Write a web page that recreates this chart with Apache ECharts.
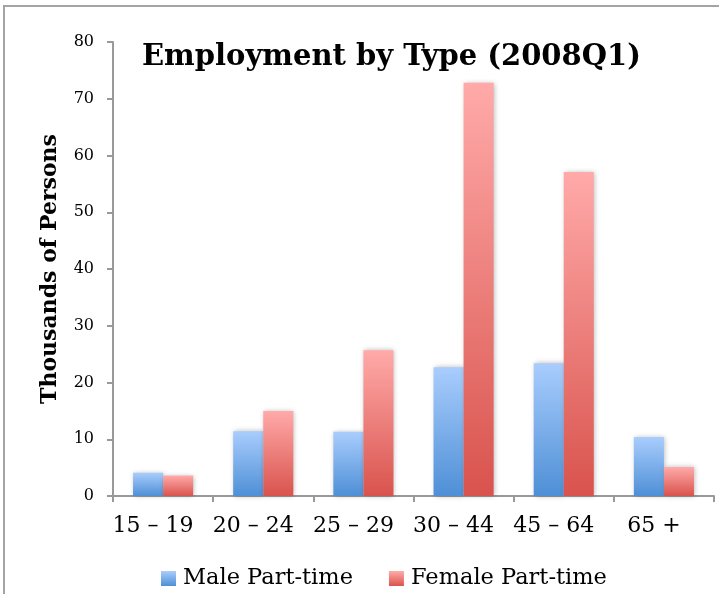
<!DOCTYPE html>
<html>
<head>
<meta charset="utf-8">
<script src="https://cdn.jsdelivr.net/npm/echarts@6/dist/echarts.min.js"></script>
<style>
  html, body { margin: 0; padding: 0; background: #fff; }
  #chart { position: absolute; left: 0; top: 0; width: 719px; height: 594px; }
  #frame { position: absolute; left: 3px; top: 5px; right: -10px; bottom: -10px;
           border-left: 2px solid #a4a4a4; border-top: 2px solid #a4a4a4; pointer-events: none; }
</style>
</head>
<body>
<div id="chart"></div>
<div id="frame"></div>
<script>
// Part-time employment by age group, thousands of persons
const ageGroups = ['15 – 19', '20 – 24', '25 – 29', '30 – 44', '45 – 64', '65 +'];
const malePartTime = [4.1, 11.4, 11.3, 22.7, 23.4, 10.4];
const femalePartTime = [3.6, 15.0, 25.7, 72.8, 57.1, 5.1];
const seriesNames = ['Male Part-time', 'Female Part-time'];
const yTicks = { min: 0, max: 80, step: 10 };

const serif = '"DejaVu Serif", "Liberation Serif", serif';

function vGrad(top, bottom) {
  return new echarts.graphic.LinearGradient(0, 0, 0, 1, [
    { offset: 0, color: top },
    { offset: 1, color: bottom }
  ]);
}

const barShadow = {
  shadowBlur: 5,
  shadowColor: 'rgba(0,0,0,0.28)',
  shadowOffsetX: 1,
  shadowOffsetY: 0
};

const chart = echarts.init(document.getElementById('chart'), null, { renderer: 'canvas' });

chart.setOption({
  animation: false,
  backgroundColor: '#ffffff',
  title: {
    text: 'Employment by Type (2008Q1)',
    left: 137,
    top: 38,
    textStyle: { fontFamily: serif, fontWeight: 'bold', fontSize: 29, color: '#000' }
  },
  legend: {
    data: seriesNames,
    top: 562,
    left: 156,
    itemWidth: 15,
    itemHeight: 15,
    itemGap: 36,
    icon: 'rect',
    itemStyle: { shadowBlur: 0, shadowColor: 'transparent' },
    textStyle: { fontFamily: serif, fontSize: 22.5, color: '#000', padding: [4, 0, 0, 2] }
  },
  grid: { left: 113, right: 5, top: 42, bottom: 98, containLabel: false },
  xAxis: {
    type: 'category',
    data: ageGroups,
    axisLine: { lineStyle: { color: '#999', width: 2 } },
    axisTick: { show: true, length: 6, lineStyle: { color: '#999', width: 2 } },
    axisLabel: {
      interval: 0,
      margin: 19,
      fontFamily: serif,
      fontSize: 22,
      color: '#000',
      padding: [0, 20, 0, 0]
    },
    splitLine: { show: false }
  },
  yAxis: {
    type: 'value',
    min: yTicks.min,
    max: yTicks.max,
    interval: yTicks.step,
    name: 'Thousands of Persons',
    nameLocation: 'middle',
    nameGap: 52,
    nameTextStyle: { fontFamily: serif, fontWeight: 'bold', fontSize: 22, color: '#000' },
    axisLine: { show: true, lineStyle: { color: '#999', width: 2 } },
    axisTick: { show: true, length: 6, lineStyle: { color: '#999', width: 2 } },
    axisLabel: { margin: 19, fontFamily: serif, fontSize: 16, color: '#000' },
    splitLine: { show: false }
  },
  series: [
    {
      name: seriesNames[0],
      type: 'bar',
      data: malePartTime,
      barGap: '0%',
      barCategoryGap: '40%',
      itemStyle: Object.assign({ color: vGrad('#a9cdfd', '#4e8fd6') }, barShadow)
    },
    {
      name: seriesNames[1],
      type: 'bar',
      data: femalePartTime,
      barGap: '0%',
      barCategoryGap: '40%',
      itemStyle: Object.assign({ color: vGrad('#ffaaa9', '#d9534d') }, barShadow)
    }
  ]
});
</script>
</body>
</html>
